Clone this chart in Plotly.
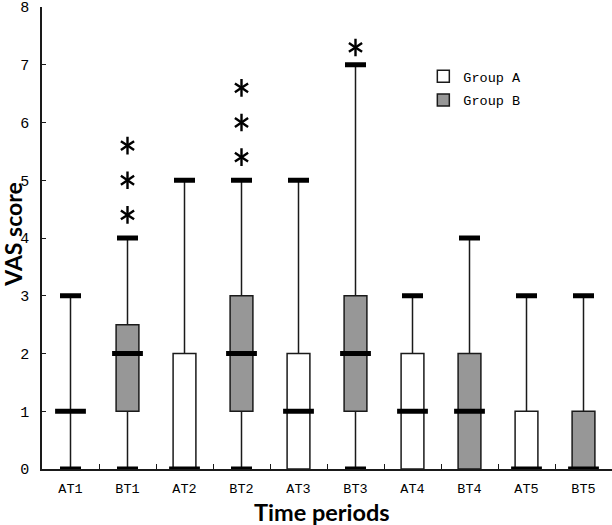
import plotly.graph_objects as go

categories = ["AT1", "BT1", "AT2", "BT2", "AT3", "BT3", "AT4", "BT4", "AT5", "BT5"]

a_labels = ["AT1", "AT2", "AT3", "AT4", "AT5"]
a_min = [0, 0, 0, 0, 0]
a_q1 = [1, 0, 0, 0, 0]
a_med = [1, 0, 1, 1, 0]
a_q3 = [1, 2, 2, 2, 1]
a_max = [3, 5, 5, 3, 3]

b_labels = ["BT1", "BT2", "BT3", "BT4", "BT5"]
b_min = [0, 0, 0, 0, 0]
b_q1 = [1, 1, 1, 0, 0]
b_med = [2, 2, 2, 1, 0]
b_q3 = [2.5, 3, 3, 2, 1]
b_max = [4, 5, 7, 4, 3]

star_x = ["BT1", "BT1", "BT1", "BT2", "BT2", "BT2", "BT3"]
star_y = [4.4, 5.0, 5.6, 5.4, 6.0, 6.6, 7.3]

y_ticks = [0, 1, 2, 3, 4, 5, 6, 7, 8]

LINE = "#1a1a1a"
GRAY = "#979797"
TICKFONT = "Liberation Mono"
BOXW = 0.4

fig = go.Figure()

def add_group(name, labels, mn, q1, med, q3, mx, fill):
    fig.add_trace(go.Box(
        name=name, x=labels, q1=q1, median=med, q3=q3,
        lowerfence=mn, upperfence=mx, legendgroup=name,
        fillcolor=fill, line=dict(color=LINE, width=1.5),
        whiskerwidth=0, width=BOXW, boxpoints=False, showlegend=True,
    ))
    # thick caps
    ux = [l for l, m, q in zip(labels, mx, q3) if m > q]
    uy = [m for m, q in zip(mx, q3) if m > q]
    lx = [l for l, m, q in zip(labels, mn, q1) if m < q]
    ly = [m for m, q in zip(mn, q1) if m < q]
    fig.add_trace(go.Scatter(
        x=ux + lx, y=uy + ly, mode="markers", showlegend=False, hoverinfo="skip",
        marker=dict(symbol="line-ew", size=15, line=dict(color="black", width=5)),
    ))
    # thick medians
    fig.add_trace(go.Scatter(
        x=labels, y=med, mode="markers", showlegend=False, hoverinfo="skip",
        marker=dict(symbol="line-ew", size=22, line=dict(color="black", width=5)),
    ))

add_group("Group A", a_labels, a_min, a_q1, a_med, a_q3, a_max, "white")
add_group("Group B", b_labels, b_min, b_q1, b_med, b_q3, b_max, GRAY)

for sym in ["y-up", "y-down"]:
    fig.add_trace(go.Scatter(
        x=star_x, y=star_y, mode="markers", showlegend=False, hoverinfo="skip",
        marker=dict(symbol=sym, size=11, line=dict(color="black", width=2.4)),
    ))

fig.update_layout(
    width=612, height=525,
    margin=dict(l=42, r=0, t=7, b=56),
    plot_bgcolor="white", paper_bgcolor="white",
    boxmode="overlay",
    font=dict(family=TICKFONT, color="black", size=13),
    legend=dict(x=0.669, y=0.883, xanchor="left", yanchor="top",
                font=dict(family=TICKFONT, size=13.5), bgcolor="rgba(0,0,0,0)",
                tracegroupgap=3),
    xaxis=dict(
        type="category", categoryorder="array", categoryarray=categories,
        range=[-0.5, 9.5], showline=True, linecolor=LINE, linewidth=1.5,
        ticks="inside", tickson="boundaries", ticklen=5, tickcolor=LINE,
        showgrid=False, zeroline=False, automargin=False, ticklabelstandoff=6,
        tickfont=dict(family=TICKFONT, size=13.5),
    ),
    yaxis=dict(
        range=[0, 8], tickvals=y_ticks, showline=True, linecolor=LINE, linewidth=1.5,
        ticks="inside", ticklen=4, tickcolor=LINE, showgrid=False, zeroline=False,
        automargin=False, ticklabeloverflow="allow", ticklabelstandoff=8,
        tickfont=dict(family=TICKFONT, size=15),
    ),
    annotations=[
        dict(text="<b>VAS score</b>", xref="paper", yref="paper", x=-0.051, y=0.509,
             xanchor="center", yanchor="middle", textangle=-90, showarrow=False,
             font=dict(family="Lato", size=23, color="black")),
        dict(text="<b>Time periods</b>", xref="paper", yref="paper", x=0.491, y=-0.093,
             xanchor="center", yanchor="middle", showarrow=False,
             font=dict(family="Lato", size=23.5, color="black")),
    ],
)

fig.write_html("out.html", config={"displayModeBar": False},
               post_script="document.body.style.margin='0';")
